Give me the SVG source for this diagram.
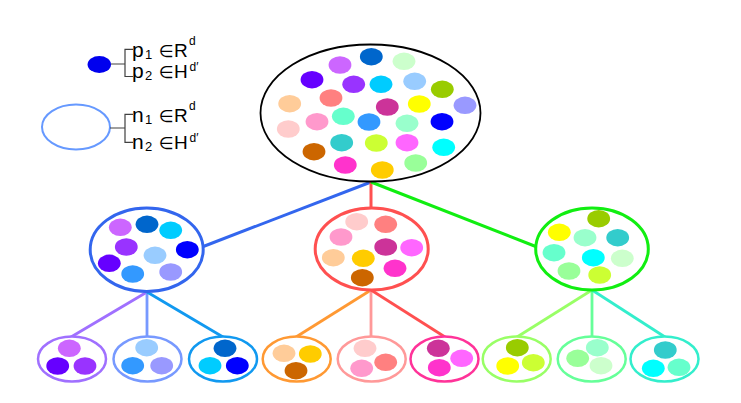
<svg xmlns="http://www.w3.org/2000/svg" width="741" height="403" viewBox="0 0 741 403">
<style>
.t{font-family:"Liberation Sans","DejaVu Sans",sans-serif;fill:#000}
.m{font-size:21px}
.s{font-size:13px}
.e{font-family:"DejaVu Sans","Liberation Sans",sans-serif;font-size:17px}
.c{font-size:19px}
.u{font-size:12px}
.brk{fill:none;stroke:#404040;stroke-width:1.2}
.node{fill:#fff}
.lv1{stroke-width:3}
.lv2{stroke-width:2.5}
.conn line{stroke-width:3}
.conn .b{stroke-width:2.8}
</style>
<defs>
<ellipse id="d" rx="11.4" ry="8.7"/>
</defs>
<rect width="741" height="403" fill="#fff"/>

<g id="legend">
<ellipse cx="99.3" cy="64.5" rx="11.7" ry="8.4" fill="#0000EE"/>
<path class="brk" d="M111 64H125M133 49.3H125V76.5H133"/>
<text class="t m" x="132" y="57">p</text><text class="t s" x="145" y="59">1</text>
<text class="t e" x="159" y="57">∈</text><text class="t c" x="174" y="57">R</text><text class="t u" x="189" y="45">d</text>
<text class="t m" x="132" y="78">p</text><text class="t s" x="145" y="80">2</text>
<text class="t e" x="159" y="78">∈</text><text class="t c" x="174" y="78">H</text><text class="t u" x="189.5" y="71">d′</text>

<ellipse cx="76" cy="127" rx="34" ry="22.5" fill="none" stroke="#6699FF" stroke-width="2"/>
<path class="brk" d="M110 128H125M133 114.3H125V142.3H133"/>
<text class="t m" x="132" y="122">n</text><text class="t s" x="145" y="124">1</text>
<text class="t e" x="159" y="122">∈</text><text class="t c" x="174" y="122">R</text><text class="t u" x="189" y="110">d</text>
<text class="t m" x="132" y="148.5">n</text><text class="t s" x="145" y="150.5">2</text>
<text class="t e" x="159" y="148.5">∈</text><text class="t c" x="174" y="148.5">H</text><text class="t u" x="189.5" y="142">d′</text>
</g>

<g id="connectors" class="conn">
<line x1="371" y1="182" x2="202" y2="247" stroke="#3366EE"/>
<line x1="371" y1="182" x2="371" y2="208" stroke="#FF5050"/>
<line x1="371" y1="182" x2="537" y2="247" stroke="#11EE11"/>
<line class="b" x1="147" y1="292" x2="71" y2="337" stroke="#A070FF"/>
<line class="b" x1="147" y1="292" x2="147" y2="337" stroke="#7799FF"/>
<line class="b" x1="147" y1="292" x2="223" y2="337" stroke="#1199F0"/>
<line class="b" x1="371" y1="290" x2="296" y2="337" stroke="#FF9933"/>
<line class="b" x1="371" y1="290" x2="371" y2="337" stroke="#FF9999"/>
<line class="b" x1="371" y1="290" x2="445" y2="337" stroke="#FF5050"/>
<line class="b" x1="592" y1="290" x2="517" y2="337" stroke="#99FF66"/>
<line class="b" x1="592" y1="290" x2="592" y2="337" stroke="#66FF99"/>
<line class="b" x1="592" y1="290" x2="665" y2="337" stroke="#33EECC"/>
</g>

<g id="root">
<ellipse class="node" cx="370.5" cy="113" rx="110" ry="68.5" stroke="#000" stroke-width="1.8"/>
<use href="#d" x="340" y="65" fill="#CC66FF"/>
<use href="#d" x="371.3" y="56.7" fill="#0066CC"/>
<use href="#d" x="404" y="61.3" fill="#CCFFCC"/>
<use href="#d" x="312" y="79.7" fill="#6600FF"/>
<use href="#d" x="353.7" y="84.3" fill="#9933FF"/>
<use href="#d" x="381" y="84.3" fill="#00CCFF"/>
<use href="#d" x="414.7" y="81.3" fill="#99CCFF"/>
<use href="#d" x="442.3" y="89.3" fill="#99CC00"/>
<use href="#d" x="289.7" y="103.7" fill="#FFCC99"/>
<use href="#d" x="331" y="98" fill="#FF8080"/>
<use href="#d" x="387.3" y="107" fill="#CC3399"/>
<use href="#d" x="419.3" y="104" fill="#FFFF00"/>
<use href="#d" x="465" y="105.3" fill="#9999FF"/>
<use href="#d" x="288.3" y="129" fill="#FFCCCC"/>
<use href="#d" x="317" y="121.7" fill="#FF99CC"/>
<use href="#d" x="343.3" y="116.3" fill="#66FFCC"/>
<use href="#d" x="369" y="122" fill="#3399FF"/>
<use href="#d" x="407" y="123.3" fill="#99FFCC"/>
<use href="#d" x="442" y="121.7" fill="#0000FF"/>
<use href="#d" x="314" y="151.7" fill="#CC6600"/>
<use href="#d" x="341.7" y="142.7" fill="#33CCCC"/>
<use href="#d" x="376.3" y="143" fill="#CCFF33"/>
<use href="#d" x="407" y="142.7" fill="#FF66FF"/>
<use href="#d" x="443.7" y="147.3" fill="#00FFFF"/>
<use href="#d" x="345.3" y="165" fill="#FF33CC"/>
<use href="#d" x="382.3" y="170" fill="#FFCC00"/>
<use href="#d" x="415.7" y="163" fill="#99FF99"/>
</g>

<g id="blue">
<ellipse class="node lv1" cx="146.7" cy="249.7" rx="56.5" ry="41.8" stroke="#3366EE"/>
<use href="#d" x="120.3" y="227.3" fill="#CC66FF"/>
<use href="#d" x="147" y="224.3" fill="#0066CC"/>
<use href="#d" x="170.7" y="230.3" fill="#00CCFF"/>
<use href="#d" x="126.3" y="247" fill="#9933FF"/>
<use href="#d" x="187.3" y="249.7" fill="#0000FF"/>
<use href="#d" x="155" y="255.3" fill="#99CCFF"/>
<use href="#d" x="109.3" y="263.3" fill="#6600FF"/>
<use href="#d" x="132.7" y="274" fill="#3399FF"/>
<use href="#d" x="170.7" y="272" fill="#9999FF"/>
</g>

<g id="red">
<ellipse class="node lv1" cx="371.7" cy="249" rx="56.5" ry="41" stroke="#FF5050"/>
<use href="#d" x="356.7" y="221.7" fill="#FFCCCC"/>
<use href="#d" x="385.7" y="224.3" fill="#FF8080"/>
<use href="#d" x="341" y="237" fill="#FF99CC"/>
<use href="#d" x="385.7" y="247" fill="#CC3399"/>
<use href="#d" x="411.7" y="247.7" fill="#FF66FF"/>
<use href="#d" x="333.3" y="257.7" fill="#FFCC99"/>
<use href="#d" x="363.3" y="258.3" fill="#FFCC00"/>
<use href="#d" x="395" y="268.3" fill="#FF33CC"/>
<use href="#d" x="362.3" y="277.7" fill="#CC6600"/>
</g>

<g id="green">
<ellipse class="node lv1" cx="592" cy="249" rx="56.3" ry="41" stroke="#11EE11"/>
<use href="#d" x="598.7" y="218.7" fill="#99CC00"/>
<use href="#d" x="559.3" y="232.3" fill="#FFFF00"/>
<use href="#d" x="585" y="237.7" fill="#99FFCC"/>
<use href="#d" x="617.7" y="237.7" fill="#33CCCC"/>
<use href="#d" x="554" y="252.7" fill="#66FFCC"/>
<use href="#d" x="593.3" y="257.7" fill="#00FFFF"/>
<use href="#d" x="622.3" y="258.3" fill="#CCFFCC"/>
<use href="#d" x="569" y="271" fill="#99FF99"/>
<use href="#d" x="599.7" y="275" fill="#CCFF33"/>
</g>

<g id="leaf1">
<ellipse class="node lv2" cx="72" cy="359" rx="34" ry="22.5" stroke="#A070FF"/>
<use href="#d" x="69.3" y="348.3" fill="#CC66FF"/>
<use href="#d" x="57.7" y="366" fill="#6600FF"/>
<use href="#d" x="85" y="366" fill="#9933FF"/>
</g>
<g id="leaf2">
<ellipse class="node lv2" cx="147.5" cy="359" rx="34" ry="22.5" stroke="#7799FF"/>
<use href="#d" x="146.7" y="347.7" fill="#99CCFF"/>
<use href="#d" x="132.7" y="365.7" fill="#3399FF"/>
<use href="#d" x="161.7" y="365.7" fill="#9999FF"/>
</g>
<g id="leaf3">
<ellipse class="node lv2" cx="223" cy="359" rx="34" ry="22.5" stroke="#1199F0"/>
<use href="#d" x="225" y="348.3" fill="#0066CC"/>
<use href="#d" x="210" y="365.7" fill="#00CCFF"/>
<use href="#d" x="237.3" y="365.7" fill="#0000FF"/>
</g>
<g id="leaf4">
<ellipse class="node lv2" cx="296.7" cy="359" rx="34" ry="22.5" stroke="#FF9933"/>
<use href="#d" x="284" y="353.3" fill="#FFCC99"/>
<use href="#d" x="310.3" y="354" fill="#FFCC00"/>
<use href="#d" x="296" y="370.7" fill="#CC6600"/>
</g>
<g id="leaf5">
<ellipse class="node lv2" cx="371.7" cy="359" rx="34" ry="22.5" stroke="#FF9999"/>
<use href="#d" x="365" y="348.3" fill="#FFCCCC"/>
<use href="#d" x="385.7" y="362.3" fill="#FF8080"/>
<use href="#d" x="361.7" y="368.3" fill="#FF99CC"/>
</g>
<g id="leaf6">
<ellipse class="node lv2" cx="444.5" cy="359" rx="34" ry="22.5" stroke="#FF3399"/>
<use href="#d" x="438.3" y="348.3" fill="#CC3399"/>
<use href="#d" x="461.7" y="358.3" fill="#FF66FF"/>
<use href="#d" x="439.3" y="367.7" fill="#FF33CC"/>
</g>
<g id="leaf7">
<ellipse class="node lv2" cx="516.7" cy="359" rx="34" ry="22.5" stroke="#99FF66"/>
<use href="#d" x="517.3" y="347.7" fill="#99CC00"/>
<use href="#d" x="507.7" y="366" fill="#FFFF00"/>
<use href="#d" x="533.3" y="362.7" fill="#CCFF33"/>
</g>
<g id="leaf8">
<ellipse class="node lv2" cx="591.7" cy="359" rx="34" ry="22.5" stroke="#66FF99"/>
<use href="#d" x="597.3" y="347.7" fill="#99FFCC"/>
<use href="#d" x="577.7" y="358.3" fill="#99FF99"/>
<use href="#d" x="601" y="365.7" fill="#CCFFCC"/>
</g>
<g id="leaf9">
<ellipse class="node lv2" cx="664.5" cy="359" rx="34" ry="22.5" stroke="#33EECC"/>
<use href="#d" x="665.3" y="350" fill="#33CCCC"/>
<use href="#d" x="653.3" y="368.3" fill="#00FFFF"/>
<use href="#d" x="679" y="367.3" fill="#66FFCC"/>
</g>
</svg>
